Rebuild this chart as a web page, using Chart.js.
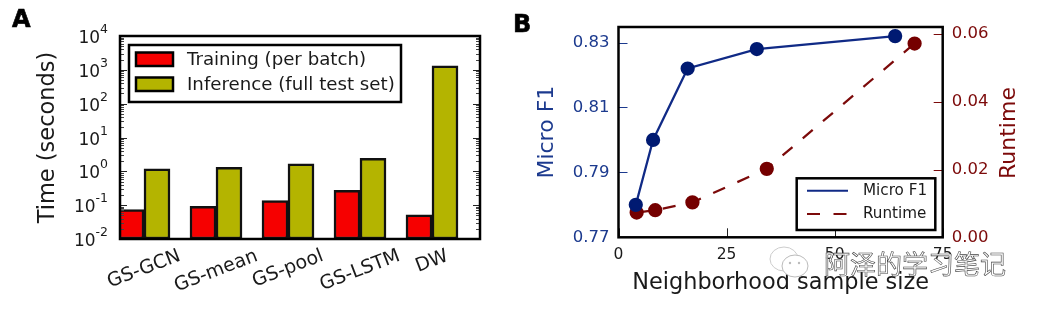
<!DOCTYPE html>
<html><head><meta charset="utf-8">
<script src="https://cdn.jsdelivr.net/npm/chart.js@4"></script>
<style>
html,body{margin:0;padding:0;background:#fff;overflow:hidden}
#wrap{position:relative;width:1040px;height:310px;filter:blur(0.5px)}
canvas{position:absolute;top:0}
.panel{position:absolute;font:bold 24px "DejaVu Sans";color:#000;-webkit-text-stroke:0.6px #000}
#wm{position:absolute;left:824px;top:247px;font:26px/32px "Noto Sans CJK SC";color:#fff;-webkit-text-stroke:0.6px #444;white-space:nowrap;letter-spacing:0}
svg{position:absolute;left:768px;top:244px}
</style></head><body>
<div id="wrap">
<canvas id="a" width="500" height="310" style="left:0"></canvas>
<canvas id="b" width="540" height="310" style="left:500px"></canvas>
<div class="panel" style="left:12px;top:5px">A</div>
<div class="panel" style="left:513px;top:10px">B</div>
<svg width="44" height="36"><ellipse cx="16" cy="15" rx="14" ry="12" fill="#fff" stroke="#ccc"/><ellipse cx="27" cy="22" rx="13" ry="11" fill="#fff" stroke="#bbb"/><circle cx="22" cy="19" r="1.2" fill="#bbb"/><circle cx="31" cy="19" r="1.2" fill="#bbb"/></svg>
<div id="wm">阿泽的学习笔记</div>
</div>
<script>
const methods=['GS-GCN','GS-mean','GS-pool','GS-LSTM','DW'];
const trainingTime=[0.074,0.093,0.136,0.275,0.052];
const inferenceTime=[1.18,1.32,1.66,2.44,1310];
const timeTicks=[0.01,0.1,1,10,100,1000,10000];
const timeExponents=['-2','-1','0','1','2','3','4'];
const microX=[4,8,16,32,64];
const microF1=[0.78,0.80,0.822,0.828,0.832];
const runtimeX=[4.2,8.5,17.1,34.3,68.5];
const runtime=[0.0073,0.008,0.0103,0.0202,0.0572];
const sizeTicks=[0,25,50,75];
const f1Ticks=[0.77,0.79,0.81,0.83];
const runtimeTicks=[0,0.02,0.04,0.06];

const F='"DejaVu Sans"';
const BLUE='#1c3a8e',NAVY='#001a72',LINEBLUE='#102a86',RED='#7c0a0a',MARK='#750000';
Chart.defaults.font.family=F;
Chart.defaults.animation=false;
const base={responsive:false,devicePixelRatio:1,animation:false};
function fix(prop,v){return s=>{s[prop]=v}}
function setTicks(arr){return s=>{s.ticks=arr.map(v=>({value:v}))}}
function tick(ctx,x1,y1,x2,y2,c){ctx.strokeStyle=c;ctx.lineWidth=1;ctx.beginPath();ctx.moveTo(x1,y1);ctx.lineTo(x2,y2);ctx.stroke()}
function frame(ctx,a){ctx.strokeStyle='#000';ctx.lineWidth=2.5;ctx.strokeRect(a.left,a.top,a.right-a.left,a.bottom-a.top)}

const panelA={id:'panelA',afterDatasetsDraw(c){
  const ctx=c.ctx,a=c.chartArea,y=c.scales.y,x=c.scales.x;
  ctx.save();
  timeTicks.forEach((d,i)=>{
    const p=Math.round(y.getPixelForValue(d))+.5;
    tick(ctx,a.left,p,a.left+7,p,'#222');tick(ctx,a.right-7,p,a.right,p,'#222');
    if(i<timeTicks.length-1)[2,3,4,5,6,7,8,9].forEach(m=>{
      const q=Math.round(y.getPixelForValue(d*m))+.5;
      tick(ctx,a.left,q,a.left+4,q,'#444');tick(ctx,a.right-4,q,a.right,q,'#444');
    });
    ctx.fillStyle='#1a1a1a';ctx.textBaseline='alphabetic';ctx.textAlign='right';
    ctx.font='12.5px '+F;const ex=timeExponents[i];const ew=ctx.measureText(ex).width;
    ctx.fillText(ex,108,y.getPixelForValue(d)-3);
    ctx.font='17px '+F;ctx.fillText('10',108-ew,y.getPixelForValue(d)+7);
  });
  frame(ctx,a);
  ctx.font='19px '+F;ctx.fillStyle='#1a1a1a';ctx.textAlign='center';ctx.textBaseline='middle';
  const rot=21*Math.PI/180;
  methods.forEach((m,i)=>{
    const w=ctx.measureText(m).width,h=14;
    const cy=249+(w*Math.sin(rot)+h*Math.cos(rot))/2;
    ctx.save();ctx.translate(x.getPixelForValue(i),cy);ctx.rotate(-rot);ctx.fillText(m,0,0);ctx.restore();
  });
  ctx.fillStyle='#fff';ctx.fillRect(129,45,272,57);
  ctx.strokeStyle='#000';ctx.lineWidth=2.5;ctx.strokeRect(129,45,272,57);
  c.data.datasets.forEach((d,i)=>{
    const yy=52.5+i*25;
    ctx.fillStyle=d.backgroundColor;ctx.fillRect(136,yy,37,13.5);
    ctx.strokeStyle='#000';ctx.lineWidth=2.5;ctx.strokeRect(136,yy,37,13.5);
    ctx.fillStyle='#1a1a1a';ctx.font='18.2px '+F;ctx.textAlign='left';ctx.textBaseline='middle';
    ctx.fillText(d.label,187,yy+8);
  });
  ctx.restore();
}};

new Chart(document.getElementById('a'),{type:'bar',plugins:[panelA],
 data:{datasets:[
  {label:'Training (per batch)',data:trainingTime.map((v,i)=>({x:i,y:v})),backgroundColor:'#f60000',borderColor:'#111',borderWidth:2.5,borderSkipped:false,clip:0,barThickness:26},
  {label:'Inference (full test set)',data:inferenceTime.map((v,i)=>({x:i,y:v})),backgroundColor:'#b4b400',borderColor:'#111',borderWidth:2.5,borderSkipped:false,clip:0,barThickness:26}
 ]},
 options:{...base,layout:{padding:{left:0,right:20,top:36,bottom:0}},
  plugins:{legend:{display:false},tooltip:{enabled:false}},
  scales:{
   x:{type:'linear',offset:false,min:-1/3,max:14/3,afterFit:fix('height',71),afterBuildTicks:setTicks(methods.map((m,i)=>i)),
      grid:{display:false},border:{display:false},ticks:{display:false,callback:v=>methods[v]}},
   y:{type:'logarithmic',min:0.01,max:10000,afterFit:fix('width',120),afterBuildTicks:setTicks(timeTicks),
      grid:{display:false},border:{display:false},
      ticks:{display:false},
      title:{display:true,text:'Time (seconds)',color:'#1a1a1a',font:{size:22.5},padding:{top:35,bottom:0}}}
  }}});

const panelB={id:'panelB',afterDatasetsDraw(c){
  const ctx=c.ctx,a=c.chartArea,s=c.scales;
  ctx.save();
  f1Ticks.forEach(v=>{const p=Math.round(s.y.getPixelForValue(v))+.5;tick(ctx,a.left,p,a.left+9,p,BLUE)});
  runtimeTicks.forEach(v=>{const p=Math.round(s.y1.getPixelForValue(v))+.5;tick(ctx,a.right-9,p,a.right,p,RED)});
  sizeTicks.forEach(v=>{const p=Math.round(s.x.getPixelForValue(v))+.5;tick(ctx,p,a.bottom-9,p,a.bottom,'#222')});
  frame(ctx,a);
  ctx.save();ctx.translate(509,133);ctx.rotate(-Math.PI/2);
  ctx.fillStyle=RED;ctx.font='22px '+F;ctx.textAlign='center';ctx.textBaseline='middle';
  ctx.fillText('Runtime',0,0);ctx.restore();
  ctx.fillStyle='#fff';ctx.fillRect(296.7,178.3,138.6,51.7);
  ctx.strokeStyle='#000';ctx.lineWidth=2.5;ctx.strokeRect(296.7,178.3,138.6,51.7);
  c.data.datasets.forEach((d,i)=>{
    const yy=190.7+i*23.3;
    ctx.strokeStyle=d.borderColor;ctx.lineWidth=2;ctx.setLineDash(d.borderDash||[]);
    ctx.beginPath();ctx.moveTo(307,yy);ctx.lineTo(348,yy);ctx.stroke();ctx.setLineDash([]);
    ctx.fillStyle='#1a1a1a';ctx.font='15.2px '+F;ctx.textAlign='left';ctx.textBaseline='middle';
    ctx.fillText(d.label,363,yy);
  });
  ctx.restore();
}};

new Chart(document.getElementById('b'),{type:'line',plugins:[panelB],
 data:{datasets:[
  {label:'Micro F1',data:microX.map((x,i)=>({x,y:microF1[i]})),yAxisID:'y',borderColor:LINEBLUE,backgroundColor:NAVY,pointBackgroundColor:NAVY,pointBorderColor:NAVY,borderWidth:2.25,pointRadius:6,tension:0,clip:false},
  {label:'Runtime',data:runtimeX.map((x,i)=>({x,y:runtime[i]})),yAxisID:'y1',borderColor:RED,backgroundColor:MARK,pointBackgroundColor:MARK,pointBorderColor:MARK,borderWidth:2.25,borderDash:[13,13.5],pointRadius:6,tension:0,clip:false}
 ]},
 options:{...base,layout:{padding:{left:0,right:0,top:27,bottom:0}},
  plugins:{legend:{display:false},tooltip:{enabled:false}},
  scales:{
   x:{type:'linear',min:0,max:75,afterFit:fix('height',72.7),afterBuildTicks:setTicks(sizeTicks),
      grid:{display:false},border:{display:false},
      ticks:{padding:0,maxRotation:0,color:'#1a1a1a',font:{size:15.5},callback:v=>String(v)},
      title:{display:true,text:'Neighborhood sample size',color:'#1a1a1a',font:{size:22.4},padding:{top:0,bottom:13}}},
   y:{position:'left',min:0.77,max:0.8348,afterFit:fix('width',118.5),afterBuildTicks:setTicks(f1Ticks),
      grid:{display:false},border:{display:false},
      ticks:{padding:1,color:BLUE,font:{size:16.5},callback:v=>v.toFixed(2)},
      title:{display:true,text:'Micro F1',color:BLUE,font:{size:22},padding:{top:34,bottom:0}}},
   y1:{position:'right',min:0,max:0.06207,afterFit:fix('width',97.3),afterBuildTicks:setTicks(runtimeTicks),
      grid:{display:false},border:{display:false},
      ticks:{padding:1,color:RED,font:{size:16.5},callback:v=>v.toFixed(2)}}
  }}});
</script>
</body></html>
